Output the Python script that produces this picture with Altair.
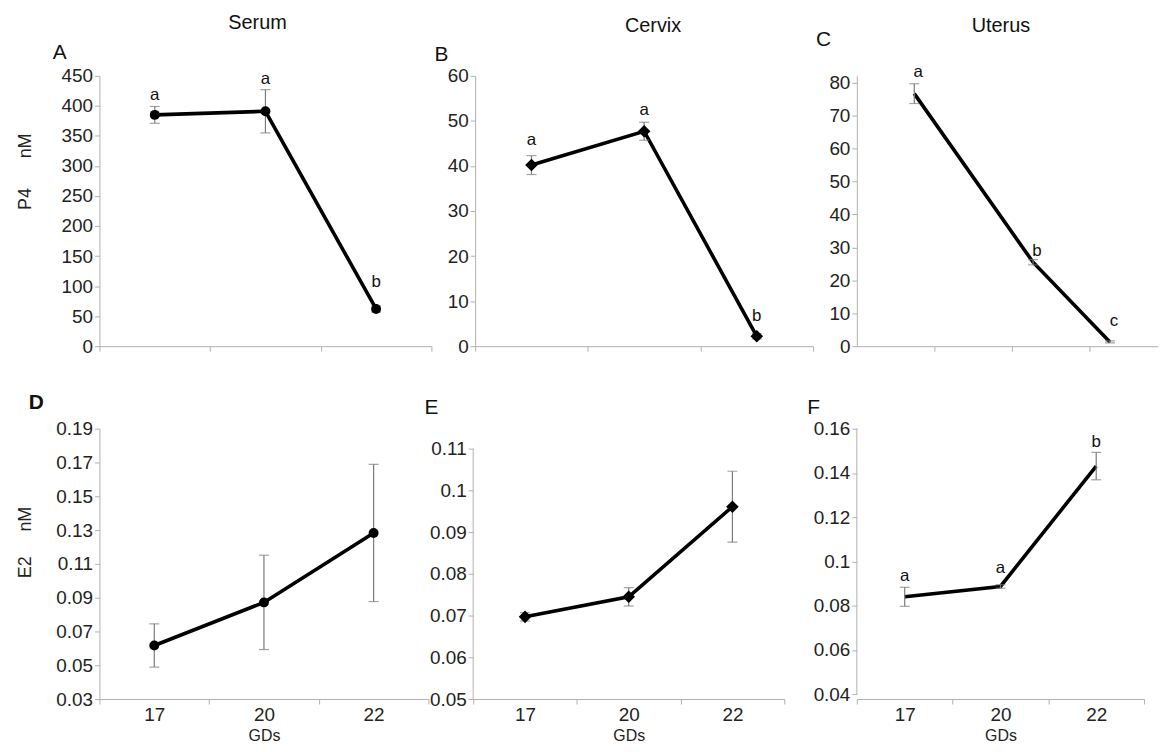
import altair as alt
import pandas as pd

FONT = "Liberation Sans"
ECOL = "#7a7a7a"
AXCOL = "#b0b0b0"
TXT = "#222222"

gd = ["17", "20", "22"]

# P4 (nM)
serum_p4 = [385, 391, 62]
serum_p4_err = [14, 36, 5]
serum_p4_sig = ["a", "a", "b"]
serum_p4_sig_y = [409, 437, 98]

cervix_p4 = [40.2, 47.7, 2.2]
cervix_p4_err = [2.1, 2.0, 0.6]
cervix_p4_sig = ["a", "a", "b"]
cervix_p4_sig_y = [44.6, 51.3, 5.6]

uterus_p4 = [76.7, 25.5, 1.3]
uterus_p4_err = [3.0, 0.8, 0.3]
uterus_p4_sig = ["a", "b", "c"]
uterus_p4_sig_y = [81.7, 27.5, 6.0]
uterus_p4_x = [0.74, 2.27, 3.26]

# E2 (nM)
serum_e2 = [0.0617, 0.0872, 0.1283]
serum_e2_err = [0.0128, 0.0279, 0.0406]

cervix_e2 = [0.0697, 0.0745, 0.0961]
cervix_e2_err = [0.0010, 0.0022, 0.0085]

uterus_e2 = [0.0840, 0.0887, 0.1431]
uterus_e2_err = [0.0043, 0.0008, 0.0062]
uterus_e2_sig = ["a", "a", "b"]
uterus_e2_sig_y = [0.091, 0.0948, 0.1516]

# axis ticks
ticks_a = [0, 50, 100, 150, 200, 250, 300, 350, 400, 450]
ticks_b = [0, 10, 20, 30, 40, 50, 60]
ticks_c = [0, 10, 20, 30, 40, 50, 60, 70, 80]
ticks_d = [0.03, 0.05, 0.07, 0.09, 0.11, 0.13, 0.15, 0.17, 0.19]
ticks_e = [0.05, 0.06, 0.07, 0.08, 0.09, 0.1, 0.11]
ticks_f = [0.04, 0.06, 0.08, 0.1, 0.12, 0.14, 0.16]
uterus_x_ticks = [1, 2, 3]

column_titles = ["Serum", "Cervix", "Uterus"]
panel_letters = ["A", "B", "C", "D", "E", "F"]
NB = "\u00a0"
y_title_p4 = "P4" + NB * 6 + "nM"
y_title_e2 = "E2" + NB * 5 + "nM"


def text_layer(txt, x, y, size, bold=False, align="left"):
    return alt.Chart(pd.DataFrame({"t": [txt]})).mark_text(
        font=FONT, fontSize=size, fontWeight="bold" if bold else "normal",
        align=align, baseline="alphabetic", color="#111111"
    ).encode(text="t:N", x=alt.value(x), y=alt.value(y))


def panel(means, errs, w, h, y_dom, y_vals, y_fmt, marker=None, msize=80,
          sig=None, sig_y=None, xq=None, xq_dom=None, bottom=False,
          y_title=None, y_title_y=0, letter="", letter_xy=(0, 0), letter_bold=False,
          col=None, col_x=0, col_y=-45, gds_y=40, sig_dx=0, axis_span=None):
    df = pd.DataFrame({
        "gd": gd,
        "mean": means,
        "lo": [m - e for m, e in zip(means, errs)],
        "hi": [m + e for m, e in zip(means, errs)],
    })
    if xq is not None:
        df["xq"] = xq
    if sig is not None:
        df["sig"] = sig
        df["sig_y"] = sig_y

    if xq is None:
        if bottom:
            xaxis = alt.Axis(tickBand="extent", labelAngle=0, labelPadding=2,
                             title="GDs", titleFontSize=16, titleY=gds_y,
                             titleBaseline="alphabetic")
        else:
            xaxis = alt.Axis(tickBand="extent", labels=False, title=None)
        X = alt.X("gd:N", sort=gd, scale=alt.Scale(paddingInner=0, paddingOuter=0), axis=xaxis)
    else:
        X = alt.X("xq:Q", scale=alt.Scale(domain=xq_dom, nice=False, zero=False),
                  axis=alt.Axis(values=uterus_x_ticks, labels=False, title=None, grid=False))

    show_domain = axis_span is None
    if y_title:
        yaxis = alt.Axis(values=y_vals, format=y_fmt, grid=False, labelPadding=2, domain=show_domain,
                         title=y_title, titleX=-69, titleY=y_title_y, titleAlign="center",
                         titleBaseline="alphabetic", titleFontSize=18)
    else:
        yaxis = alt.Axis(values=y_vals, format=y_fmt, grid=False, labelPadding=2,
                         domain=show_domain, title=None)
    yscale = alt.Scale(domain=y_dom, nice=False, zero=False)
    Y = alt.Y("mean:Q", scale=yscale, axis=yaxis)
    Ylo = alt.Y("lo:Q", scale=yscale, axis=yaxis)
    Yhi = alt.Y("hi:Q", scale=yscale, axis=yaxis)

    base = alt.Chart(df)
    layers = []
    if axis_span is not None:
        layers.append(alt.Chart(pd.DataFrame({"v": [0]})).mark_rule(color=AXCOL, strokeWidth=1).encode(
            x=alt.value(0),
            y=alt.Y(datum=axis_span[0], scale=yscale, axis=yaxis),
            y2=alt.Y2(datum=axis_span[1]),
        ))
    layers.append(base.mark_line(color="black", strokeWidth=3.6).encode(x=X, y=Y))
    layers.append(base.mark_rule(color=ECOL, strokeWidth=1.2).encode(x=X, y=Ylo, y2="hi:Q"))
    layers.append(base.mark_tick(orient="horizontal", size=10, thickness=1.2, color=ECOL).encode(x=X, y=Ylo))
    layers.append(base.mark_tick(orient="horizontal", size=10, thickness=1.2, color=ECOL).encode(x=X, y=Yhi))
    if marker:
        layers.append(base.mark_point(shape=marker, filled=True, size=msize, color="black",
                                      opacity=1).encode(x=X, y=Y))
    if sig is not None:
        layers.append(base.mark_text(font=FONT, fontSize=17, align="center", baseline="alphabetic",
                                     color="#111111", dx=sig_dx).encode(
            x=X, y=alt.Y("sig_y:Q", scale=yscale, axis=yaxis), text="sig:N"))
    layers.append(text_layer(letter, letter_xy[0], letter_xy[1], 21, bold=letter_bold))
    if col:
        layers.append(text_layer(col, col_x, col_y, 20, align="center"))
    return alt.layer(*layers).properties(width=w, height=h)


def spacer(w, h):
    return alt.Chart(pd.DataFrame({"s": [0]})).mark_point(opacity=0).properties(width=w, height=h)


pA = panel(serum_p4, serum_p4_err, 334, 272, [0, 450], ticks_a, "d", marker="circle", msize=100,
           sig=serum_p4_sig, sig_y=serum_p4_sig_y, y_title=y_title_p4, y_title_y=96,
           letter=panel_letters[0], letter_xy=(-47, -17), col=column_titles[0], col_x=159, col_y=-47)
pB = panel(cervix_p4, cervix_p4_err, 340, 272, [0, 60], ticks_b, "d", marker="diamond", msize=160,
           sig=cervix_p4_sig, sig_y=cervix_p4_sig_y,
           letter=panel_letters[1], letter_xy=(-41, -15), col=column_titles[1], col_x=179, col_y=-44)
pC = panel(uterus_p4, uterus_p4_err, 303, 272, [0, 82.1], ticks_c, "d",
           sig=uterus_p4_sig, sig_y=uterus_p4_sig_y, xq=uterus_p4_x, xq_dom=[0, 3.88], sig_dx=4,
           letter=panel_letters[2], letter_xy=(-41, -30), col=column_titles[2], col_x=145, col_y=-44)
pD = panel(serum_e2, serum_e2_err, 331, 272, [0.03, 0.19], ticks_d, ".2~f", marker="circle", msize=100,
           bottom=True, y_title=y_title_e2, y_title_y=114, gds_y=42,
           letter=panel_letters[3], letter_xy=(-71, -20), letter_bold=True)
pE = panel(cervix_e2, cervix_e2_err, 313, 272, [0.05, 0.1148], ticks_e, ".2~f", marker="diamond", msize=160,
           bottom=True, gds_y=42, axis_span=[0.05, 0.11],
           letter=panel_letters[4], letter_xy=(-49, -15))
pF = panel(uterus_e2, uterus_e2_err, 289, 272, [0.0378, 0.16], ticks_f, ".2~f",
           sig=uterus_e2_sig, sig_y=uterus_e2_sig_y, bottom=True, gds_y=42, axis_span=[0.04, 0.16],
           letter=panel_letters[5], letter_xy=(-50, -15))

row1 = alt.hconcat(pA, spacer(24, 272), pB, spacer(24, 272), pC, spacing=10, bounds="flush")
row2 = alt.hconcat(pD, spacer(25, 272), pE, spacer(53, 272), pF, spacing=10, bounds="flush")

chart = alt.vconcat(row1, row2, spacing=34).properties(
    padding={"left": 8, "top": 2, "right": 0, "bottom": 0},
).configure_view(
    stroke="transparent"
).configure_axis(
    domainColor=AXCOL, tickColor=AXCOL, tickSize=5, domainWidth=1, tickWidth=1,
    labelFont=FONT, labelFontSize=19, labelColor=TXT, grid=False,
    titleFont=FONT, titleFontWeight="normal", titleColor=TXT,
)

chart.save("out.html", embed_options={"renderer": "svg", "actions": False})
